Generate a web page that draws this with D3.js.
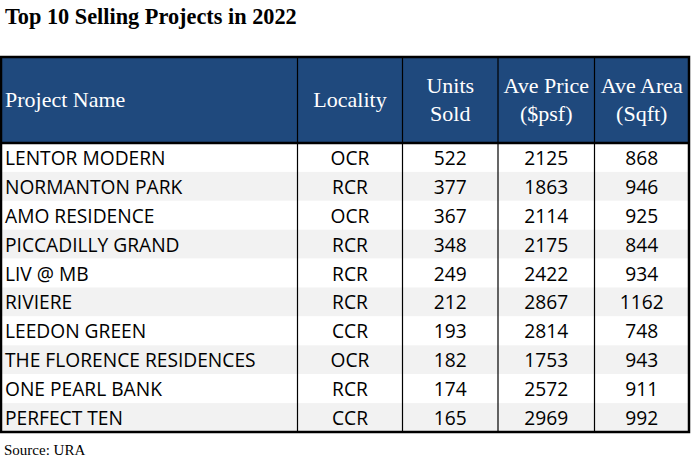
<!DOCTYPE html>
<html><head><meta charset="utf-8">
<script src="https://cdn.jsdelivr.net/npm/d3@7"></script>
<style>body{margin:0;background:#fff}svg{display:block}</style>
</head><body>
<script>
const title = "Top 10 Selling Projects in 2022";
const source = "Source: URA";
const headers = [["Project Name"], ["Locality"], ["Units", "Sold"], ["Ave Price", "($psf)"], ["Ave Area", "(Sqft)"]];
const projects = ["LENTOR MODERN","NORMANTON PARK","AMO RESIDENCE","PICCADILLY GRAND","LIV @ MB","RIVIERE","LEEDON GREEN","THE FLORENCE RESIDENCES","ONE PEARL BANK","PERFECT TEN"];
const localities = ["OCR","RCR","OCR","RCR","RCR","RCR","CCR","OCR","RCR","CCR"];
const unitsSold = [522,377,367,348,249,212,193,182,174,165];
const avePrice = [2125,1863,2114,2175,2422,2867,2814,1753,2572,2969];
const aveArea = [868,946,925,844,934,1162,748,943,911,992];

const W = 692, H = 462;
const svg = d3.select("body").append("svg").attr("width", W).attr("height", H);

const colEdges = [1, 297.5, 402.5, 498, 594.5, 689];
const tTop = 57, headerBottom = 143, tBottom = 432;
const rowsData = projects.map((p, i) => ({i, cells: [p, localities[i], unitsSold[i], avePrice[i], aveArea[i]]}));
const y = d3.scaleBand().domain(d3.range(rowsData.length)).range([headerBottom, tBottom]).padding(0);

svg.append("text").attr("x", 5).attr("y", 24)
  .attr("font-family", "Liberation Serif").attr("font-weight", "bold").attr("font-size", 22.3)
  .attr("fill", "#000").text(title);

svg.append("rect").attr("x", colEdges[0]).attr("y", tTop).attr("width", colEdges[5] - colEdges[0]).attr("height", headerBottom - tTop).attr("fill", "#1f497d");

const rowG = svg.selectAll("g.row").data(rowsData).join("g").attr("class", "row");
rowG.append("rect").attr("x", colEdges[0]).attr("y", d => y(d.i)).attr("width", colEdges[5] - colEdges[0]).attr("height", y.bandwidth())
  .attr("fill", d => d.i % 2 ? "#f2f2f2" : "#ffffff");
rowG.selectAll("text").data(d => d.cells.map((v, j) => ({v, j, i: d.i}))).join("text")
  .attr("x", c => c.j === 0 ? 5 : (colEdges[c.j] + colEdges[c.j + 1]) / 2)
  .attr("y", c => y(c.i) + y.bandwidth() / 2 + 7.5)
  .attr("text-anchor", c => c.j === 0 ? "start" : "middle")
  .attr("font-family", "'Open Sans', sans-serif").attr("font-size", 19.2).attr("fill", "#000")
  .text(c => c.v);

headers.forEach((lines, j) => {
  const cx = j === 0 ? 5 : (colEdges[j] + colEdges[j + 1]) / 2;
  const mid = (tTop + headerBottom) / 2;
  lines.forEach((ln, k) => {
    const off = lines.length === 1 ? 0 : (k === 0 ? -14 : 14);
    svg.append("text").attr("x", cx).attr("y", mid + off + 7)
      .attr("text-anchor", j === 0 ? "start" : "middle")
      .attr("font-family", "Liberation Serif").attr("font-size", 22).attr("fill", "#fff").text(ln);
  });
});

svg.selectAll("line.v").data(colEdges.slice(1, 5)).join("line").attr("class", "v")
  .attr("x1", d => d).attr("x2", d => d).attr("y1", tTop).attr("y2", tBottom)
  .attr("stroke", "#000").attr("stroke-width", 1.2);
svg.append("line").attr("x1", colEdges[0]).attr("x2", colEdges[5]).attr("y1", headerBottom).attr("y2", headerBottom).attr("stroke", "#000").attr("stroke-width", 2.5);
svg.append("rect").attr("x", colEdges[0]).attr("y", tTop).attr("width", colEdges[5] - colEdges[0]).attr("height", tBottom - tTop)
  .attr("fill", "none").attr("stroke", "#000").attr("stroke-width", 2.5);

svg.append("text").attr("x", 4).attr("y", 455)
  .attr("font-family", "Liberation Serif").attr("font-size", 15).attr("fill", "#000").text(source);
</script>
</body></html>
